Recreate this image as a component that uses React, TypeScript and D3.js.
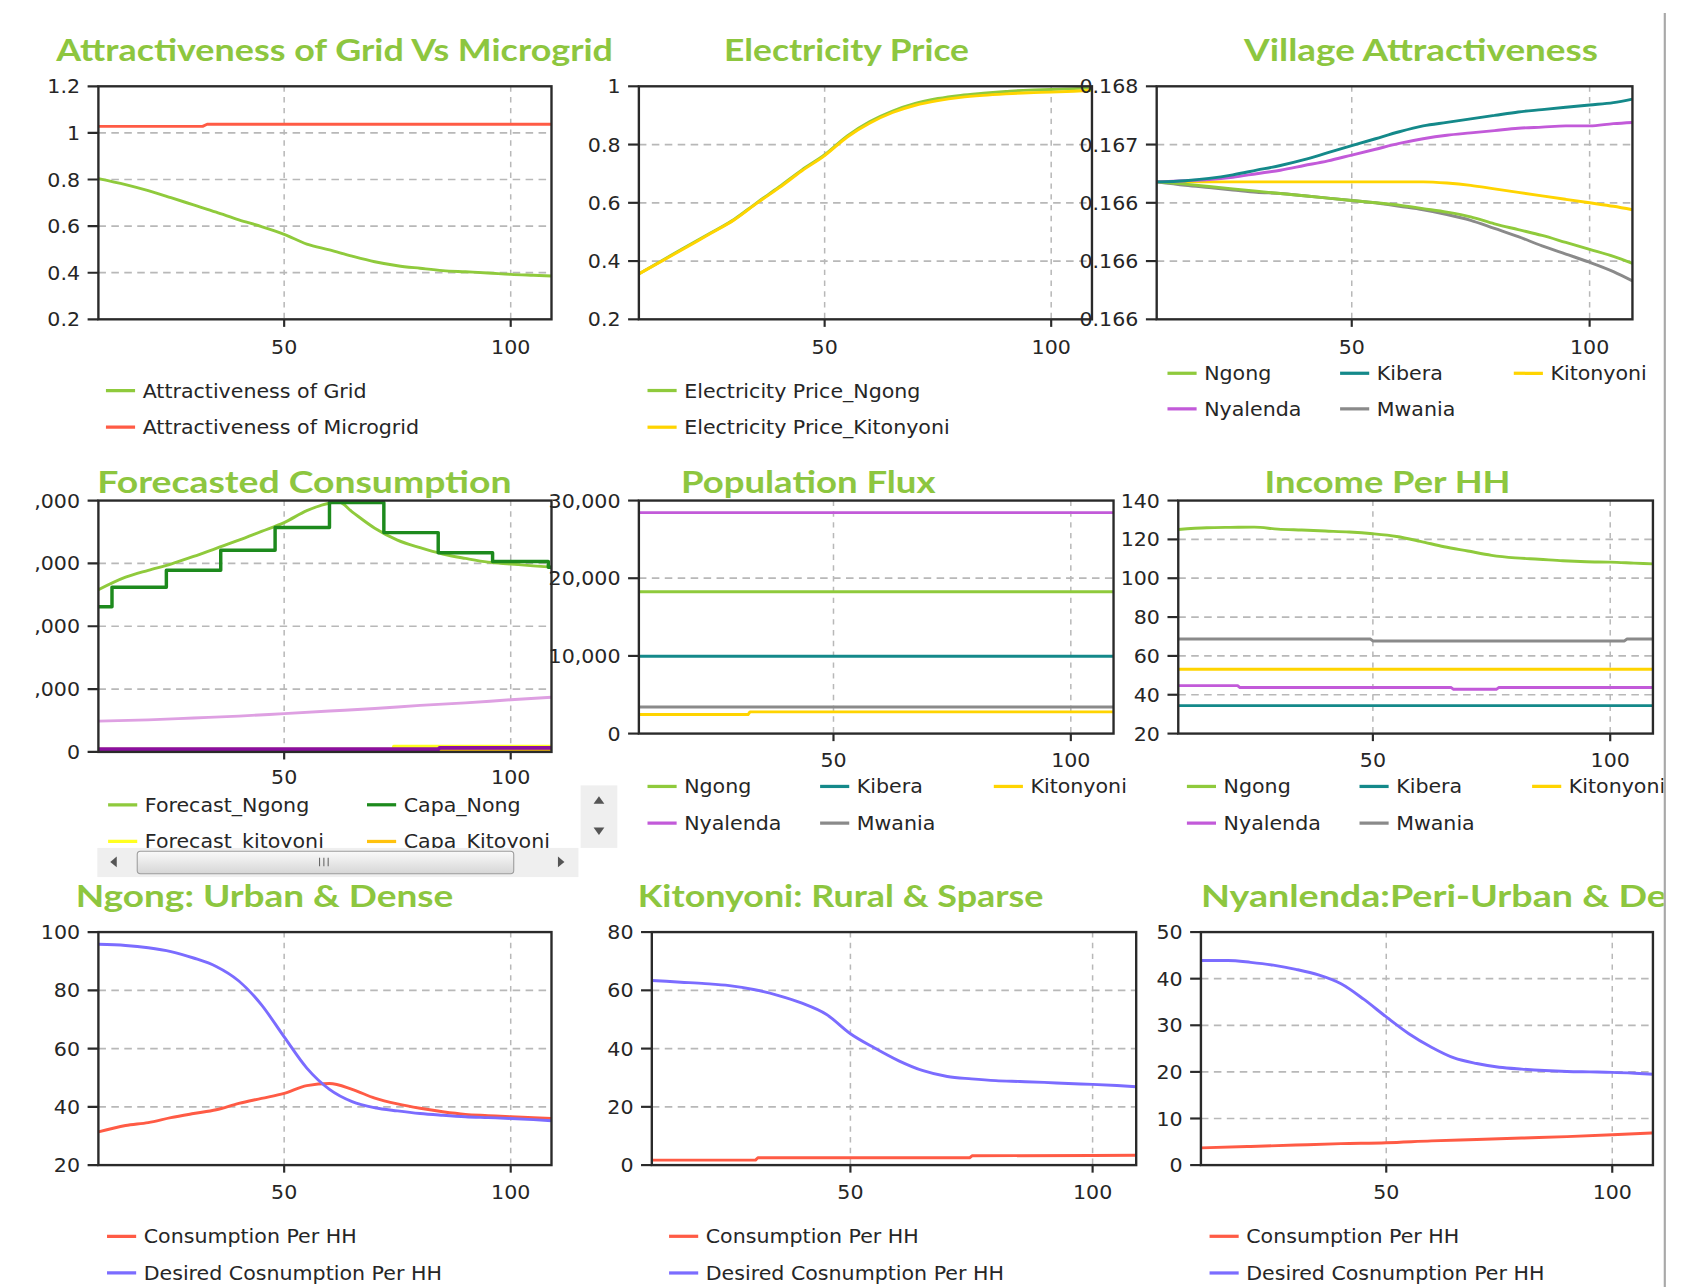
import React from 'react';
import * as d3 from 'd3';

// ---------------- DATA ----------------
const T = [9, 15, 20, 25, 30, 35, 40, 45, 50, 55, 60, 65, 70, 75, 80, 85, 90, 95, 100, 105, 109];
const X_DOMAIN: [number, number] = [9, 109];
const X_TICKS = [50, 100];

// Attractiveness of Grid Vs Microgrid
const attractGrid = [0.804, 0.778, 0.752, 0.722, 0.691, 0.66, 0.627, 0.598, 0.565, 0.523, 0.498, 0.471, 0.447, 0.43, 0.419, 0.409, 0.404, 0.399, 0.393, 0.389, 0.386];
const microgridT = [9, 32, 33, 109];
const attractMicrogrid = [1.028, 1.028, 1.037, 1.037];
const attractTicks = [0.2, 0.4, 0.6, 0.8, 1, 1.2];
const attractLabels = ['0.2', '0.4', '0.6', '0.8', '1', '1.2'];

// Electricity Price
const priceNgong = [0.356, 0.41, 0.454, 0.498, 0.543, 0.6, 0.655, 0.713, 0.765, 0.83, 0.879, 0.915, 0.941, 0.958, 0.969, 0.976, 0.982, 0.987, 0.989, 0.992, 0.995];
const priceKitonyoni = [0.356, 0.408, 0.452, 0.496, 0.541, 0.598, 0.652, 0.71, 0.762, 0.826, 0.874, 0.91, 0.935, 0.951, 0.962, 0.969, 0.974, 0.978, 0.98, 0.983, 0.986];
const priceTicks = [0.2, 0.4, 0.6, 0.8, 1];
const priceLabels = ['0.2', '0.4', '0.6', '0.8', '1'];

// Village Attractiveness
const villNgong = [0.16718, 0.16716, 0.16714, 0.16712, 0.1671, 0.16708, 0.16706, 0.16704, 0.16702, 0.167, 0.16698, 0.16695, 0.16692, 0.16688, 0.16682, 0.16677, 0.16672, 0.16666, 0.1666, 0.16654, 0.16648];
const villKibera = [0.16718, 0.16719, 0.16721, 0.16724, 0.16728, 0.16732, 0.16737, 0.16743, 0.16749, 0.16755, 0.16761, 0.16766, 0.16769, 0.16772, 0.16775, 0.16778, 0.1678, 0.16782, 0.16784, 0.16786, 0.16789];
const villKitonyoni = [0.16718, 0.16718, 0.16718, 0.16718, 0.16718, 0.16718, 0.16718, 0.16718, 0.16718, 0.16718, 0.16718, 0.16718, 0.16717, 0.16715, 0.16712, 0.16709, 0.16706, 0.16703, 0.167, 0.16697, 0.16694];
const villNyalenda = [0.16718, 0.16719, 0.1672, 0.16722, 0.16725, 0.16728, 0.16732, 0.16736, 0.16741, 0.16746, 0.16751, 0.16755, 0.16758, 0.1676, 0.16762, 0.16764, 0.16765, 0.16766, 0.16766, 0.16768, 0.16769];
const villMwania = [0.16718, 0.16715, 0.16713, 0.16711, 0.16709, 0.16708, 0.16706, 0.16704, 0.16702, 0.167, 0.16697, 0.16694, 0.1669, 0.16685, 0.16678, 0.16671, 0.16663, 0.16656, 0.16649, 0.16641, 0.16633];
const villTicks = [0.166, 0.1665, 0.167, 0.1675, 0.168];
const villLabels = ['0.166', '0.166', '0.166', '0.167', '0.168'];

// Forecasted Consumption
const forecastT = [9, 15, 20, 25, 30, 35, 40, 45, 50, 55, 58, 62, 65, 70, 75, 80, 85, 90, 95, 100, 105, 109];
const forecastNgong = [25800, 27800, 28900, 29900, 31100, 32400, 33700, 35100, 36500, 38400, 39200, 39800, 38200, 35600, 33700, 32500, 31500, 30800, 30200, 29900, 29600, 29400];
const capaT = [9, 12, 24, 36, 48, 60, 72, 84, 96, 108.3, 109];
const capaNong = [23100, 26200, 28900, 32100, 35700, 39700, 34900, 31700, 30300, 29400, 29400];
const nyalT = [9, 20, 30, 40, 50, 60, 70, 80, 90, 100, 109];
const forecastNyalenda = [4900, 5100, 5400, 5700, 6100, 6500, 6900, 7400, 7800, 8300, 8700];
const kitoT = [9, 74, 74.2, 109];
const forecastKitoyoni = [400, 400, 900, 900];
const capaKitoT = [9, 109];
const capaKitoyoni = [350, 350];
const purpleT = [9, 84, 84.3, 109];
const forecastPurple = [420, 420, 640, 640];
const forecastTicks = [0, 10000, 20000, 30000, 40000];
const forecastLabels = ['0', ',000', ',000', ',000', ',000'];

// Population Flux
const flatT = [9, 109];
const popNgong = [18250, 18250];
const popKibera = [9950, 9950];
const popNyalenda = [28450, 28450];
const popMwania = [3430, 3430];
const popKitoT = [9, 32, 32.4, 109];
const popKitonyoni = [2450, 2450, 2790, 2790];
const popTicks = [0, 10000, 20000, 30000];
const popLabels = ['0', '10,000', '20,000', '30,000'];

// Income Per HH
const incNgong = [125.1, 126.0, 126.2, 126.3, 125.3, 124.8, 124.3, 123.8, 122.9, 121.5, 119.0, 116.2, 114.0, 111.8, 110.5, 109.8, 109.0, 108.5, 108.3, 107.8, 107.4];
const incMwaniaT = [9, 49.5, 50, 103, 103.5, 109];
const incMwania = [68.7, 68.7, 67.7, 67.7, 68.7, 68.7];
const incKitonyoni = [53.1, 53.1];
const incNyalT = [9, 21.5, 22, 66.5, 67, 76, 76.5, 109];
const incNyalenda = [44.7, 44.7, 43.7, 43.7, 42.8, 42.8, 43.7, 43.7];
const incKibera = [34.4, 34.4];
const incTicks = [20, 40, 60, 80, 100, 120, 140];
const incLabels = ['20', '40', '60', '80', '100', '120', '140'];

// Ngong: Urban & Dense
const ngongConsumption = [31.4, 33.6, 34.6, 36.3, 37.7, 39.0, 41.2, 42.9, 44.6, 47.3, 48.0, 46.0, 43.0, 41.0, 39.5, 38.3, 37.4, 37.0, 36.6, 36.3, 36.0];
const ngongDesired = [95.8, 95.4, 94.6, 93.3, 91.1, 88.2, 83.2, 75.0, 64.0, 53.3, 46.0, 41.8, 39.7, 38.6, 37.7, 37.1, 36.6, 36.3, 36.0, 35.6, 35.2];
const ngongTicks = [20, 40, 60, 80, 100];
const ngongLabels = ['20', '40', '60', '80', '100'];

// Kitonyoni: Rural & Sparse
const kitoConsT = [9, 30.4, 30.9, 74.6, 75.1, 100, 109];
const kitoConsumption = [1.7, 1.7, 2.5, 2.5, 3.2, 3.3, 3.4];
const kitoDesired = [63.4, 62.8, 62.3, 61.6, 60.3, 58.3, 55.6, 51.8, 45.1, 40.2, 35.8, 32.4, 30.4, 29.6, 29.0, 28.7, 28.4, 28.0, 27.7, 27.3, 26.9];
const kitoTicks = [0, 20, 40, 60, 80];
const kitoLabels = ['0', '20', '40', '60', '80'];

// Nyanlenda: Peri-Urban
const nyConsT = [9, 20, 30, 40, 50, 60, 70, 80, 90, 100, 109];
const nyConsumption = [3.7, 4.0, 4.3, 4.6, 4.8, 5.2, 5.5, 5.8, 6.1, 6.5, 6.9];
const nyDesired = [43.9, 43.9, 43.5, 42.9, 42.0, 40.8, 38.9, 35.6, 31.8, 28.2, 25.3, 23.0, 21.8, 21.0, 20.6, 20.3, 20.1, 20.0, 19.9, 19.7, 19.5];
const nyTicks = [0, 10, 20, 30, 40, 50];
const nyLabels = ['0', '10', '20', '30', '40', '50'];

// ---------------- STYLE ----------------
const C = {
  green: '#8fca3c',
  red: '#ff5b45',
  yellow: '#ffd400',
  teal: '#14898a',
  purple: '#c25ad9',
  gray: '#8a8a8a',
  blue: '#7b6cff',
  darkGreen: '#1d8a1d',
  plum: '#dea0e2',
  darkPurple: '#8c0fa0',
  brightYellow: '#ffff20',
  gold: '#ffc20e',
  title: '#8dc63f',
  text: '#262626',
  grid: '#b8b8b8',
};

type Curve = 'smooth' | 'linear' | 'step';
type Series = { name: string; color: string; xs: number[]; ys: number[]; curve?: Curve; w?: number };
type LegendItem = { name: string; color: string; x: number; y: number };
type PanelCfg = {
  id: string;
  title: string;
  titleX: number;
  titleY: number;
  titleLen: number;
  box: { l: number; r: number; t: number; b: number };
  yDomain: [number, number];
  yTicks: number[];
  yLabels: string[];
  xLabelY: number;
  series: Series[];
  legend: LegendItem[];
  legendClipY?: number;
};

const TICK_FONT = '"DejaVu Sans", Verdana, sans-serif';
const SX = 1.09;

function Label({ x, y, anchor, children }: { x: number; y: number; anchor?: 'start' | 'middle' | 'end'; children: React.ReactNode }) {
  return (
    <g transform={`translate(${x},${y}) scale(${SX},1)`}>
      <text x={0} y={0} textAnchor={anchor || 'start'} fontFamily={TICK_FONT} fontSize={17.5} fill={C.text}>
        {children}
      </text>
    </g>
  );
}

function Panel({ cfg }: { cfg: PanelCfg }) {
  const { box } = cfg;
  const x = d3.scaleLinear().domain(X_DOMAIN).range([box.l, box.r]);
  const y = d3.scaleLinear().domain(cfg.yDomain).range([box.b, box.t]);
  const clipId = `clip-${cfg.id}`;
  const legClip = `leg-${cfg.id}`;
  const curveOf = (c?: Curve) => (c === 'step' ? d3.curveStepAfter : c === 'linear' ? d3.curveLinear : d3.curveMonotoneX);
  return (
    <g>
      <defs>
        <clipPath id={clipId}>
          <rect x={box.l} y={box.t - 2} width={box.r - box.l} height={box.b - box.t + 4} />
        </clipPath>
        {cfg.legendClipY !== undefined && (
          <clipPath id={legClip}>
            <rect x={0} y={0} width={1568} height={cfg.legendClipY} />
          </clipPath>
        )}
      </defs>
      <text
        x={cfg.titleX}
        y={cfg.titleY}
        textLength={cfg.titleLen}
        lengthAdjust="spacingAndGlyphs"
        fill={C.title}
        fontFamily='Lato, "Open Sans", sans-serif'
        fontWeight={700}
        fontSize={29}
      >
        {cfg.title}
      </text>
      {/* grid */}
      {cfg.yTicks.slice(1, -1).map((t, i) => (
        <line key={'h' + i} x1={box.l} x2={box.r} y1={y(t)} y2={y(t)} stroke={C.grid} strokeWidth={1.6} strokeDasharray="7,5" />
      ))}
      {X_TICKS.map((t, i) => (
        <line key={'v' + i} x1={x(t)} x2={x(t)} y1={box.t} y2={box.b} stroke={C.grid} strokeWidth={1.4} strokeDasharray="5,5" />
      ))}
      {/* series */}
      <g clipPath={`url(#${clipId})`}>
        {cfg.series.map((s, i) => {
          const gen = d3
            .line<number>()
            .x((_, k) => x(s.xs[k]))
            .y((d) => y(d))
            .curve(curveOf(s.curve));
          return <path key={i} d={gen(s.ys) || ''} fill="none" stroke={s.color} strokeWidth={s.w ?? 2.7} strokeLinejoin="round" />;
        })}
      </g>
      {/* frame */}
      <rect x={box.l} y={box.t} width={box.r - box.l} height={box.b - box.t} fill="none" stroke="#2a2a2a" strokeWidth={2.2} />
      {/* y ticks */}
      {cfg.yTicks.map((t, i) => (
        <g key={'yt' + i}>
          <line x1={box.l - 10} x2={box.l} y1={y(t)} y2={y(t)} stroke="#2a2a2a" strokeWidth={2} />
          <Label x={box.l - 17} y={y(t) + 6.5} anchor="end">
            {cfg.yLabels[i]}
          </Label>
        </g>
      ))}
      {/* x ticks */}
      {X_TICKS.map((t, i) => (
        <g key={'xt' + i}>
          <line x1={x(t)} x2={x(t)} y1={box.b} y2={box.b + 7} stroke="#2a2a2a" strokeWidth={2} />
          <Label x={x(t)} y={cfg.xLabelY} anchor="middle">
            {String(t)}
          </Label>
        </g>
      ))}
      {/* legend */}
      <g clipPath={cfg.legendClipY !== undefined ? `url(#${legClip})` : undefined}>
        {cfg.legend.map((l, i) => (
          <g key={'lg' + i}>
            <line x1={l.x} x2={l.x + 27} y1={l.y} y2={l.y} stroke={l.color} strokeWidth={3} />
            <Label x={l.x + 34} y={l.y + 6.5}>
              {l.name}
            </Label>
          </g>
        ))}
      </g>
    </g>
  );
}

const villageLegend = (cols: number[], r1: number, r2: number): LegendItem[] => [
  { name: 'Ngong', color: C.green, x: cols[0], y: r1 },
  { name: 'Kibera', color: C.teal, x: cols[1], y: r1 },
  { name: 'Kitonyoni', color: C.yellow, x: cols[2], y: r1 },
  { name: 'Nyalenda', color: C.purple, x: cols[0], y: r2 },
  { name: 'Mwania', color: C.gray, x: cols[1], y: r2 },
];

const consLegend = (x0: number): LegendItem[] => [
  { name: 'Consumption Per HH', color: C.red, x: x0, y: 1146 },
  { name: 'Desired Cosnumption Per HH', color: C.blue, x: x0, y: 1180 },
];

const panels: PanelCfg[] = [
  {
    id: 'p1', title: 'Attractiveness of Grid Vs Microgrid', titleX: 52, titleY: 57, titleLen: 516,
    box: { l: 91, r: 511, t: 80, b: 296 }, yDomain: [0.2, 1.2], yTicks: attractTicks, yLabels: attractLabels, xLabelY: 328,
    series: [
      { name: 'Attractiveness of Grid', color: C.green, xs: T, ys: attractGrid },
      { name: 'Attractiveness of Microgrid', color: C.red, xs: microgridT, ys: attractMicrogrid, curve: 'linear' },
    ],
    legend: [
      { name: 'Attractiveness of Grid', color: C.green, x: 98, y: 362 },
      { name: 'Attractiveness of Microgrid', color: C.red, x: 98, y: 396 },
    ],
  },
  {
    id: 'p2', title: 'Electricity Price', titleX: 671, titleY: 57, titleLen: 227,
    box: { l: 592, r: 1012, t: 80, b: 296 }, yDomain: [0.2, 1], yTicks: priceTicks, yLabels: priceLabels, xLabelY: 328,
    series: [
      { name: 'Electricity Price_Ngong', color: C.green, xs: T, ys: priceNgong },
      { name: 'Electricity Price_Kitonyoni', color: C.yellow, xs: T, ys: priceKitonyoni },
    ],
    legend: [
      { name: 'Electricity Price_Ngong', color: C.green, x: 600, y: 362 },
      { name: 'Electricity Price_Kitonyoni', color: C.yellow, x: 600, y: 396 },
    ],
  },
  {
    id: 'p3', title: 'Village Attractiveness', titleX: 1153, titleY: 57, titleLen: 328,
    box: { l: 1072, r: 1513, t: 80, b: 296 }, yDomain: [0.166, 0.168], yTicks: villTicks, yLabels: villLabels, xLabelY: 328,
    series: [
      { name: 'Kitonyoni', color: C.yellow, xs: T, ys: villKitonyoni },
      { name: 'Mwania', color: C.gray, xs: T, ys: villMwania },
      { name: 'Ngong', color: C.green, xs: T, ys: villNgong },
      { name: 'Nyalenda', color: C.purple, xs: T, ys: villNyalenda },
      { name: 'Kibera', color: C.teal, xs: T, ys: villKibera },
    ],
    legend: villageLegend([1082, 1242, 1403], 346, 379),
  },
  {
    id: 'p4', title: 'Forecasted Consumption', titleX: 90, titleY: 457, titleLen: 384,
    box: { l: 91, r: 511, t: 464, b: 697 }, yDomain: [0, 40000], yTicks: forecastTicks, yLabels: forecastLabels, xLabelY: 727,
    series: [
      { name: 'Forecast_Nyalenda', color: C.plum, xs: nyalT, ys: forecastNyalenda },
      { name: 'Capa_Kitoyoni', color: C.gold, xs: capaKitoT, ys: capaKitoyoni, curve: 'linear' },
      { name: 'Forecast_kitoyoni', color: C.brightYellow, xs: kitoT, ys: forecastKitoyoni, curve: 'linear', w: 3 },
      { name: 'Capa_Nyalenda', color: C.darkPurple, xs: purpleT, ys: forecastPurple, curve: 'linear', w: 3.6 },
      { name: 'Forecast_Ngong', color: C.green, xs: forecastT, ys: forecastNgong },
      { name: 'Capa_Nong', color: C.darkGreen, xs: capaT, ys: capaNong, curve: 'step', w: 3.2 },
    ],
    legend: [
      { name: 'Forecast_Ngong', color: C.green, x: 100, y: 746 },
      { name: 'Capa_Nong', color: C.darkGreen, x: 340, y: 746 },
      { name: 'Forecast_kitoyoni', color: C.brightYellow, x: 100, y: 780 },
      { name: 'Capa_Kitoyoni', color: C.gold, x: 340, y: 780 },
    ],
    legendClipY: 786,
  },
  {
    id: 'p5', title: 'Population Flux', titleX: 631, titleY: 457, titleLen: 236,
    box: { l: 592, r: 1032, t: 464, b: 680 }, yDomain: [0, 30000], yTicks: popTicks, yLabels: popLabels, xLabelY: 711,
    series: [
      { name: 'Nyalenda', color: C.purple, xs: flatT, ys: popNyalenda, curve: 'linear' },
      { name: 'Ngong', color: C.green, xs: flatT, ys: popNgong, curve: 'linear' },
      { name: 'Kibera', color: C.teal, xs: flatT, ys: popKibera, curve: 'linear' },
      { name: 'Mwania', color: C.gray, xs: flatT, ys: popMwania, curve: 'linear' },
      { name: 'Kitonyoni', color: C.yellow, xs: popKitoT, ys: popKitonyoni, curve: 'linear' },
    ],
    legend: villageLegend([600, 760, 921], 729, 763),
  },
  {
    id: 'p6', title: 'Income Per HH', titleX: 1172, titleY: 457, titleLen: 228,
    box: { l: 1092, r: 1532, t: 464, b: 680 }, yDomain: [20, 140], yTicks: incTicks, yLabels: incLabels, xLabelY: 711,
    series: [
      { name: 'Ngong', color: C.green, xs: T, ys: incNgong },
      { name: 'Mwania', color: C.gray, xs: incMwaniaT, ys: incMwania, curve: 'linear' },
      { name: 'Kitonyoni', color: C.yellow, xs: flatT, ys: incKitonyoni, curve: 'linear' },
      { name: 'Nyalenda', color: C.purple, xs: incNyalT, ys: incNyalenda, curve: 'linear' },
      { name: 'Kibera', color: C.teal, xs: flatT, ys: incKibera, curve: 'linear' },
    ],
    legend: villageLegend([1100, 1260, 1420], 729, 763),
  },
  {
    id: 'p7', title: 'Ngong: Urban & Dense', titleX: 70, titleY: 841, titleLen: 350,
    box: { l: 91, r: 511, t: 864, b: 1080 }, yDomain: [20, 100], yTicks: ngongTicks, yLabels: ngongLabels, xLabelY: 1111,
    series: [
      { name: 'Consumption Per HH', color: C.red, xs: T, ys: ngongConsumption },
      { name: 'Desired Cosnumption Per HH', color: C.blue, xs: T, ys: ngongDesired },
    ],
    legend: consLegend(99),
  },
  {
    id: 'p8', title: 'Kitonyoni: Rural & Sparse', titleX: 591, titleY: 841, titleLen: 376,
    box: { l: 604, r: 1053, t: 864, b: 1080 }, yDomain: [0, 80], yTicks: kitoTicks, yLabels: kitoLabels, xLabelY: 1111,
    series: [
      { name: 'Consumption Per HH', color: C.red, xs: kitoConsT, ys: kitoConsumption, curve: 'linear' },
      { name: 'Desired Cosnumption Per HH', color: C.blue, xs: T, ys: kitoDesired },
    ],
    legend: consLegend(620),
  },
  {
    id: 'p9', title: 'Nyanlenda:Peri-Urban & De', titleX: 1113, titleY: 841, titleLen: 432,
    box: { l: 1113, r: 1532, t: 864, b: 1080 }, yDomain: [0, 50], yTicks: nyTicks, yLabels: nyLabels, xLabelY: 1111,
    series: [
      { name: 'Consumption Per HH', color: C.red, xs: nyConsT, ys: nyConsumption },
      { name: 'Desired Cosnumption Per HH', color: C.blue, xs: T, ys: nyDesired },
    ],
    legend: consLegend(1121),
  },
];

function Scrollbars() {
  return (
    <g>
      <defs>
        <linearGradient id="thumbGrad" x1="0" y1="0" x2="0" y2="1">
          <stop offset="0" stopColor="#fafafa" />
          <stop offset="1" stopColor="#d6d6d6" />
        </linearGradient>
      </defs>
      <rect x={90} y={786} width={446} height={27} fill="#efefef" />
      <rect x={127} y={789} width={349} height={21} rx={3} fill="url(#thumbGrad)" stroke="#9c9c9c" strokeWidth={1} />
      {[296, 300, 304].map((gx) => (
        <line key={gx} x1={gx} x2={gx} y1={795} y2={803} stroke="#666" strokeWidth={1} />
      ))}
      <path d="M102,799 L108,794 L108,804 Z" fill="#555" />
      <path d="M523,799 L517,794 L517,804 Z" fill="#555" />
      <rect x={538} y={728} width={34} height={58} fill="#efefef" />
      <path d="M555,738 L550,745 L560,745 Z" fill="#555" />
      <path d="M555,774 L550,767 L560,767 Z" fill="#555" />
    </g>
  );
}

export default function App() {
  return (
    <svg
      width={1692}
      height={1287}
      viewBox="0 0 1568 1193"
      style={{ position: 'absolute', left: 0, top: 0, background: '#fff' }}
    >
      <defs>
        <clipPath id="pageClip">
          <rect x={0} y={0} width={1542} height={1193} />
        </clipPath>
      </defs>
      <rect x={0} y={0} width={1568} height={1193} fill="#fff" />
      <g clipPath="url(#pageClip)">
        {panels.map((p) => (
          <Panel key={p.id} cfg={p} />
        ))}
        <Scrollbars />
      </g>
      <line x1={1543} x2={1543} y1={12} y2={1193} stroke="#a8a8a8" strokeWidth={2} />
    </svg>
  );
}
